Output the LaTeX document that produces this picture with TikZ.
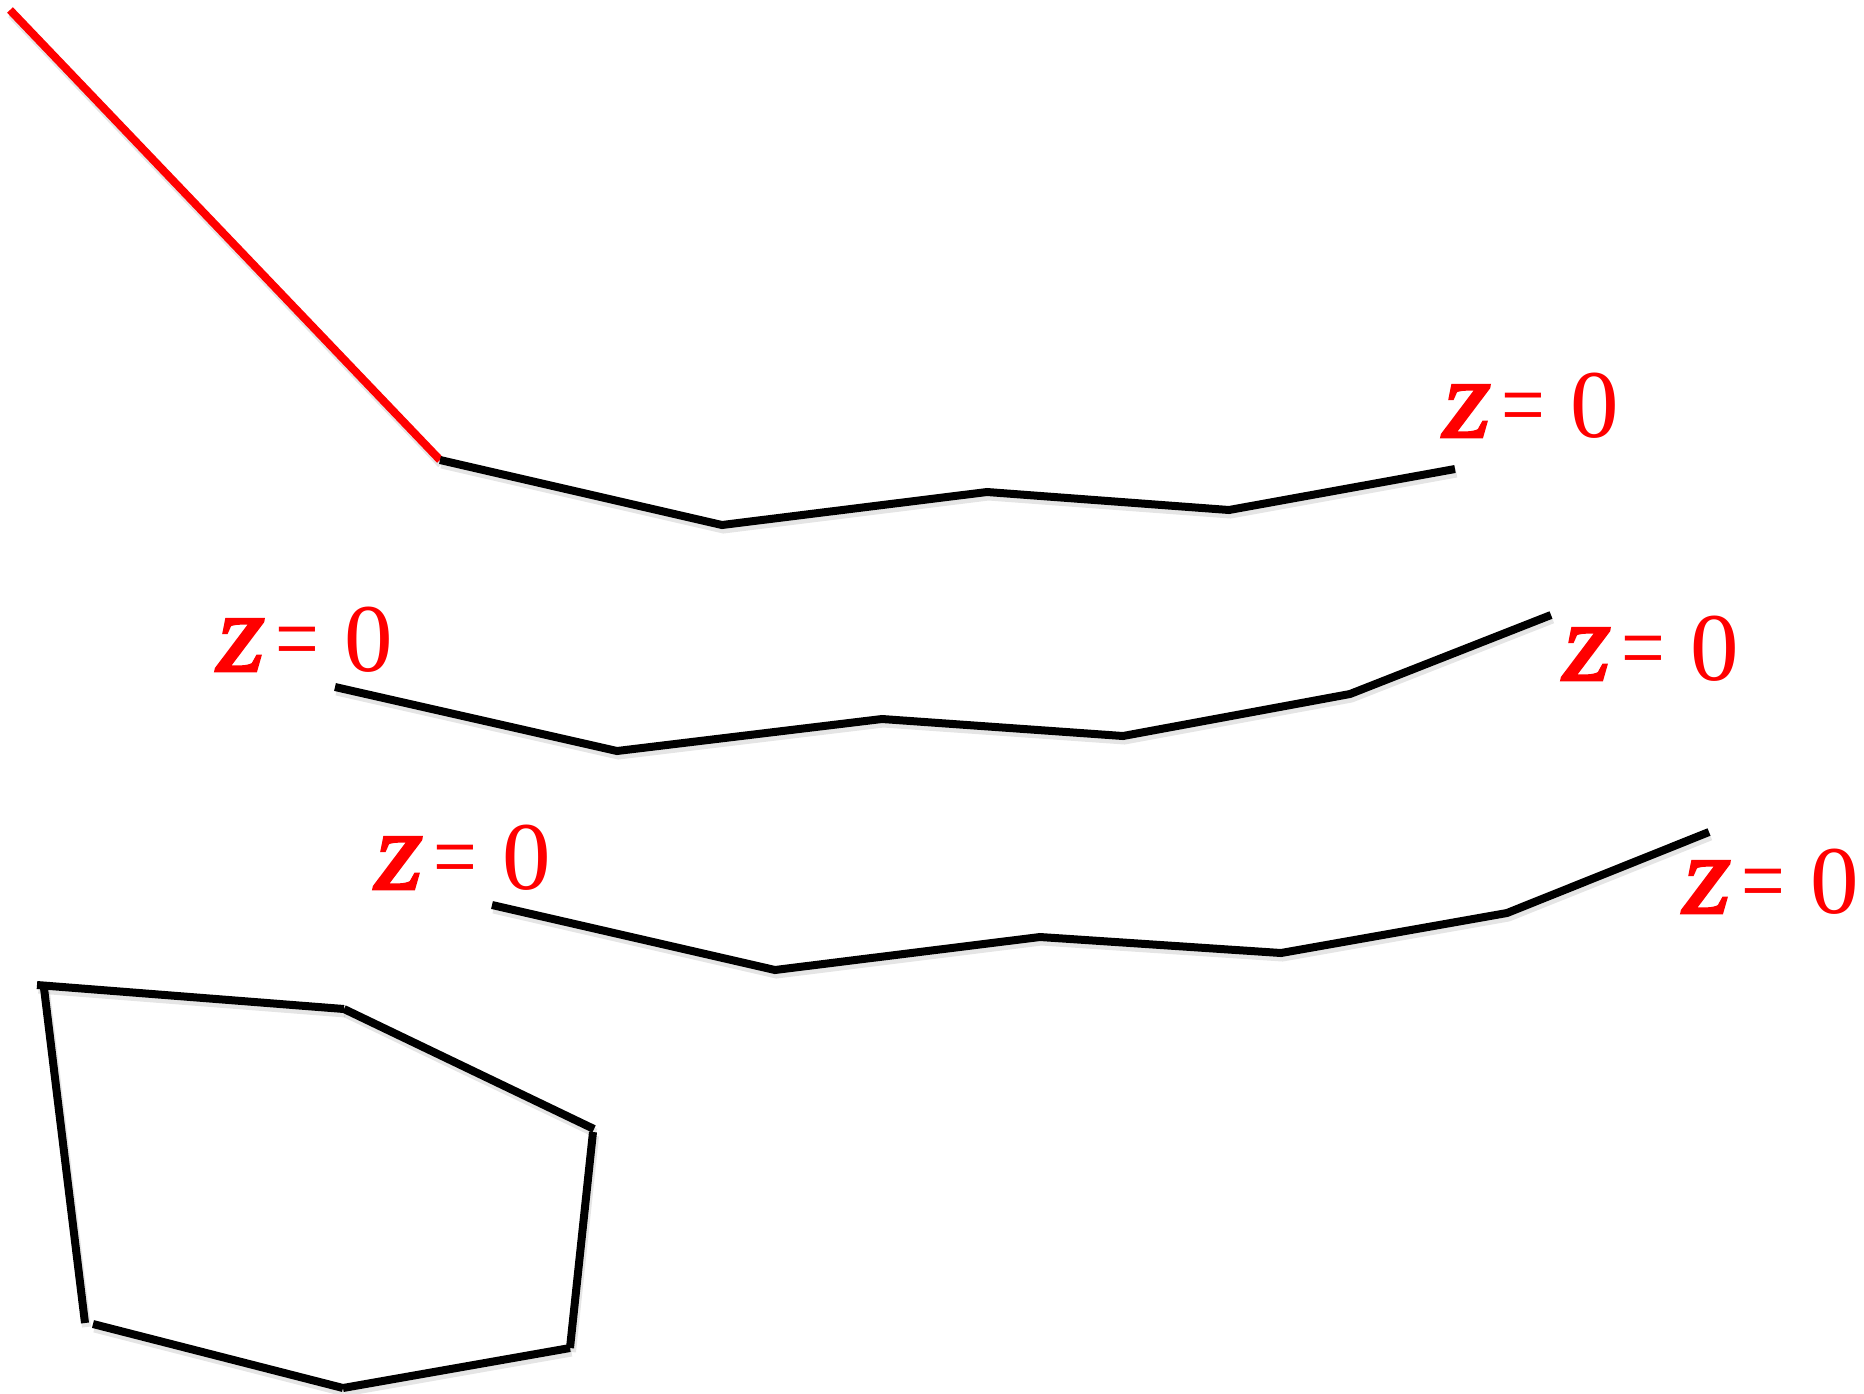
\documentclass[tikz,border=0pt]{standalone}
\usepackage{fontspec}
\usepackage{graphicx}
\setmainfont{Liberation Serif}
\newfontfamily\zfont[FakeBold=2.2]{Liberation Serif Italic}
\newcommand{\zeqzero}{\resizebox{48pt}{52pt}{\zfont z}\hspace{10pt}{\fontsize{97}{97}\selectfont\scalebox{0.8}[1]{=}}\hspace{25.5pt}{\fontsize{97}{97}\selectfont 0}}
\tikzset{
  softshadow/.style={preaction={draw, black, opacity=0.10, line width=9pt, transform canvas={shift={(1.5pt,-4pt)}}}},
  seg/.style={line width=8pt, black, line join=miter, softshadow},
  redseg/.style={line width=8pt, red, softshadow},
  zlabel/.style={anchor=base west, inner sep=0pt, outer sep=0pt, text=red},
}
\begin{document}
\begin{tikzpicture}[x=1pt,y=-1pt]
\useasboundingbox (0,0) rectangle (1864,1393);
% red segment
\coordinate (r0) at (10,10);
\coordinate (a1) at (440,460);
\coordinate (a2) at (722,525);
\coordinate (a3) at (987,492);
\coordinate (a4) at (1229,510);
\coordinate (a5) at (1455,469);
\draw[redseg] (r0) -- (a1);
\draw[seg] (a1) -- (a2) -- (a3) -- (a4) -- (a5);
% second line
\coordinate (b1) at (335,687);
\coordinate (b2) at (617,751);
\coordinate (b3) at (882,719);
\coordinate (b4) at (1123,736);
\coordinate (b5) at (1350,694);
\coordinate (b6) at (1551,615);
\draw[seg] (b1) -- (b2) -- (b3) -- (b4) -- (b5) -- (b6);
% third line
\coordinate (c1) at (492,905);
\coordinate (c2) at (775,970);
\coordinate (c3) at (1040,937);
\coordinate (c4) at (1281,953);
\coordinate (c5) at (1507,913);
\coordinate (c6) at (1709,832);
\draw[seg] (c1) -- (c2) -- (c3) -- (c4) -- (c5) -- (c6);
% polygon pieces
\coordinate (p1) at (37,985);
\coordinate (p2) at (344,1009);
\coordinate (p3) at (594,1129);
\coordinate (p3b) at (593,1132);
\coordinate (p4) at (570,1348);
\coordinate (p5) at (343,1388);
\coordinate (p6) at (93,1324);
\coordinate (q1) at (44,988);
\coordinate (q2) at (85,1323);
\draw[seg] (p1) -- (p2);
\draw[seg] (p2) -- (p3);
\draw[seg] (p3b) -- (p4);
\draw[seg] (p4) -- (p5);
\draw[seg] (p5) -- (p6);
\draw[seg] (q1) -- (q2);
% labels
\node[zlabel] (l1) at (1443,437) {\zeqzero};
\node[zlabel] (l2) at (217,671) {\zeqzero};
\node[zlabel] (l3) at (1563,680) {\zeqzero};
\node[zlabel] (l4) at (375,889) {\zeqzero};
\node[zlabel] (l5) at (1683,913) {\zeqzero};
\end{tikzpicture}
\end{document}
